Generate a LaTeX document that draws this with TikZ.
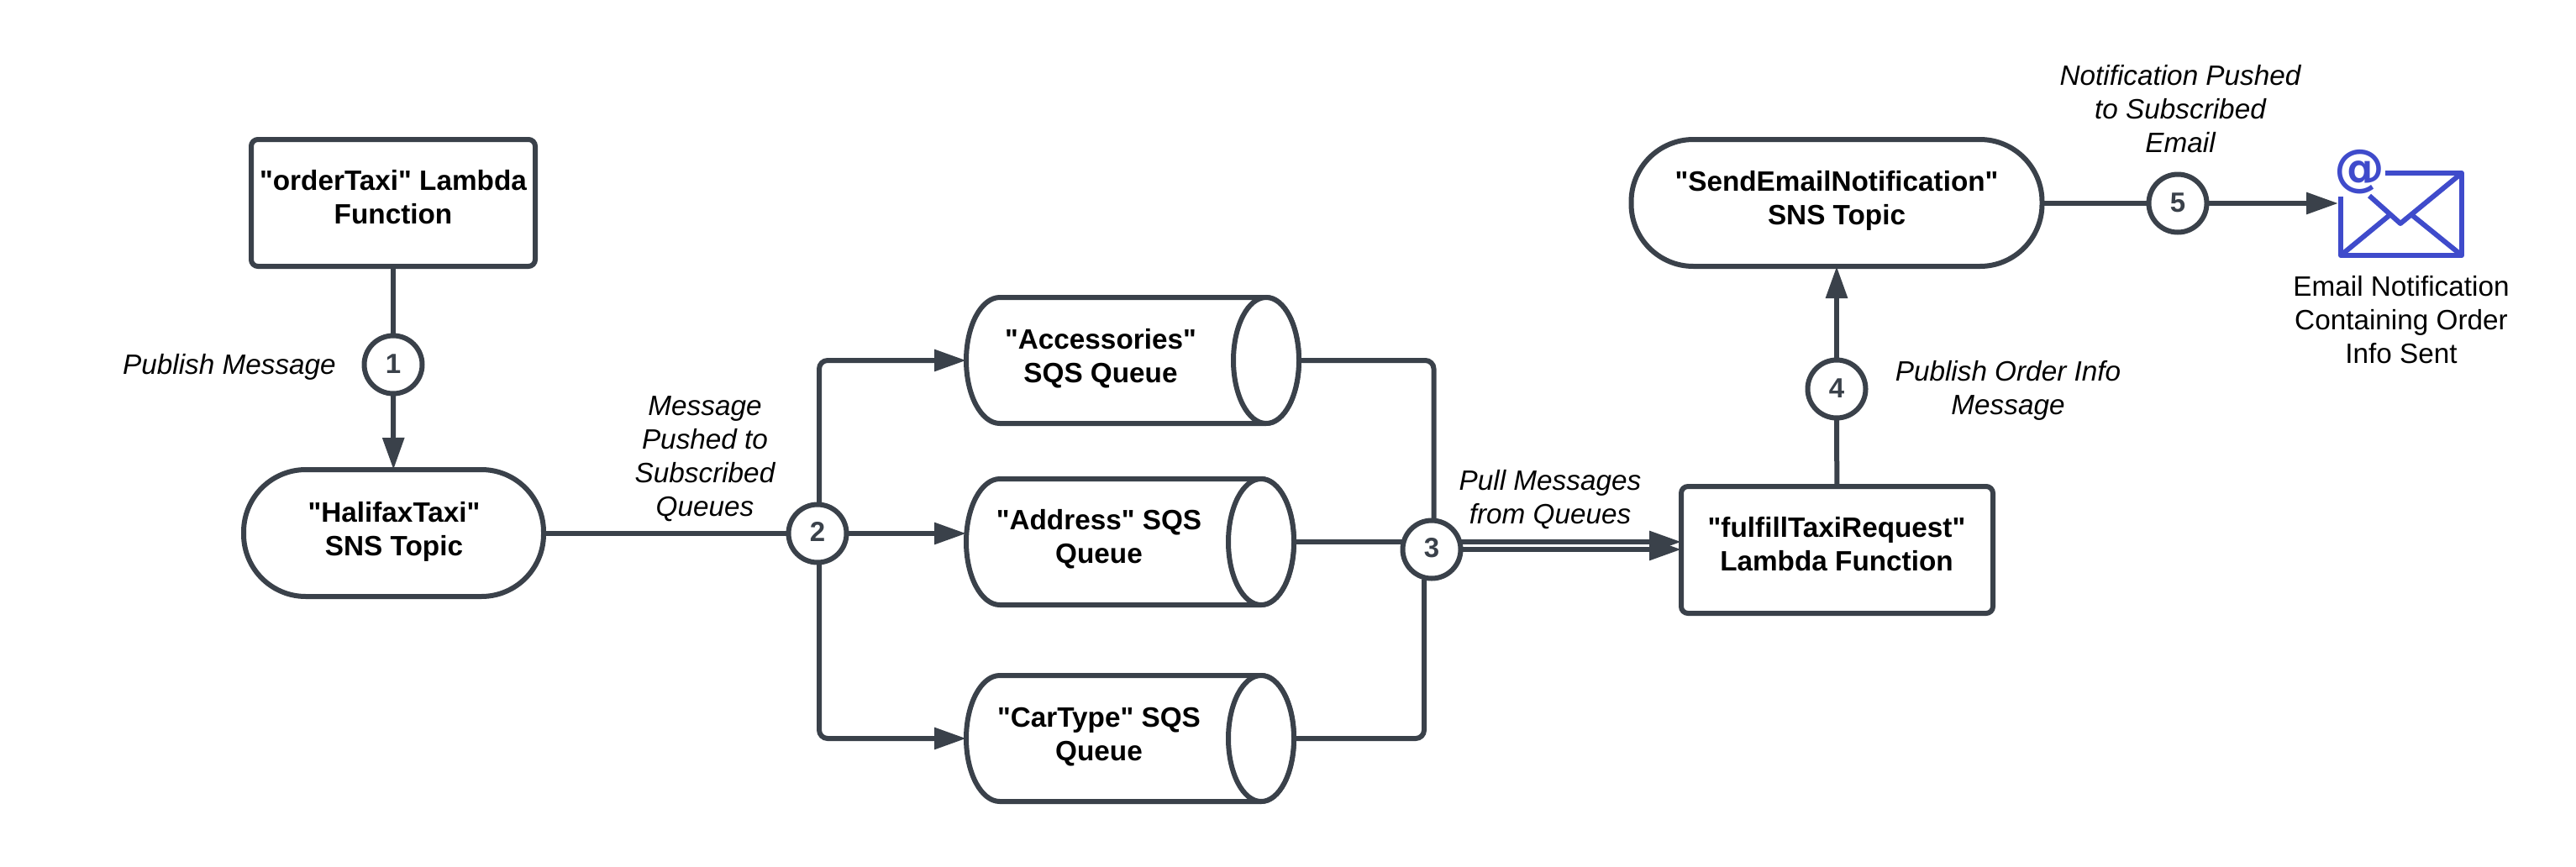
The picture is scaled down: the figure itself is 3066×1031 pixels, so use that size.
\documentclass[tikz,border=0pt]{standalone}
\usepackage{fontspec}
\setmainfont{Liberation Sans}[Ligatures=TeXOff]
\newfontfamily\atfont{DejaVu Sans}[Ligatures=TeXOff]
\usetikzlibrary{arrows.meta,backgrounds,calc}
\definecolor{ink}{HTML}{3A414A}
\definecolor{mailblue}{HTML}{3F4BCB}
\tikzset{
  x=1pt,y=-1pt,
  every node/.style={outer sep=0pt,inner sep=0pt},
  shapeline/.style={draw=ink,line width=6pt,fill=white},
  boxs/.style={shapeline,rectangle,rounded corners=8pt},
  stadium/.style={shapeline,rectangle,rounded corners=74pt},
  cylframe/.style={rectangle,minimum height=150pt},
  num/.style={shapeline,circle,minimum size=69pt,font=\fontsize{33}{40}\selectfont\bfseries,text=ink},
  boldtxt/.style={align=center,font=\fontsize{33.3}{40}\selectfont\bfseries,text=black},
  ital/.style={align=center,font=\fontsize{33.3}{40}\selectfont\itshape,text=black},
  plain/.style={align=center,font=\fontsize{33.3}{40}\selectfont,text=black},
  conn/.style={draw=ink,line width=6pt,rounded corners=10pt},
  arr/.style={conn,-{Triangle[length=38pt,width=25pt]}},
  mail/.style={draw=mailblue,line width=6pt,line join=round},
}
% cylinder lying on its side, drawn round a named frame node
\newcommand{\drawcyl}[1]{%
  \draw[shapeline] ([xshift=-39pt]#1.north east) -- ([xshift=40pt]#1.north west)
    arc[start angle=90,end angle=270,x radius=40pt,y radius=75pt]
    -- ([xshift=-39pt]#1.south east)
    arc[start angle=-90,end angle=90,x radius=39pt,y radius=75pt] -- cycle;
  \draw[shapeline] ([xshift=-39pt]#1.east) ellipse[x radius=39pt,y radius=75pt];
}
\begin{document}
\begin{tikzpicture}
\useasboundingbox (0,0) rectangle (3066,1031);
% shapes
\node[boxs,minimum width=338pt,minimum height=151pt] (order) at (468,241.5) {};
\node[stadium,minimum width=357pt,minimum height=151pt] (halifax) at (468.5,634.5) {};
\node[cylframe,minimum width=396pt] (acc) at (1348,429) {};
\node[cylframe,minimum width=390pt] (addr) at (1345,645) {};
\node[cylframe,minimum width=390pt] (car) at (1345,879) {};
\drawcyl{acc}
\drawcyl{addr}
\drawcyl{car}
\node[boxs,minimum width=371pt,minimum height=151pt] (fulfill) at (2186.5,654.5) {};
\node[stadium,minimum width=489pt,minimum height=151pt] (send) at (2186,241.5) {};
\node[num] (n1) at (468,434) {\raisebox{2pt}{1}};
\node[num] (n2) at (973,635) {\raisebox{4pt}{2}};
\node[num] (n3) at (1704,654) {\raisebox{4pt}{3}};
\node[num] (n4) at (2186,463) {\raisebox{2pt}{4}};
\node[num] (n5) at (2592,242) {\raisebox{2pt}{5}};
% free ends
\coordinate (up2) at (975,600);
\coordinate (dn2) at (975,670);
\coordinate (up3) at (1706.5,620);
\coordinate (dn3) at (1695,690);
\coordinate (a1) at (1704,645);
\coordinate (a2) at (1704,654);
\coordinate (mailtip) at (2783,242);
% connectors
\begin{scope}[on background layer]
\draw[conn] (order) -- (n1);
\draw[arr] (n1) -- (halifax);
\draw[conn] (halifax.east |- n2) -- (n2);
\draw[arr] (up2) |- (acc.west);
\draw[arr] (n2) -- (addr.west |- n2);
\draw[arr] (dn2) |- (car.west);
\draw[conn] (acc.east) -| (up3);
\draw[conn] (addr.east) -- (a1);
\draw[conn] (car.east) -| (dn3);
\draw[arr] (a1) -- (fulfill.west |- a1);
\draw[arr] (a2) -- (fulfill.west |- a2);
\draw[conn] (fulfill) -- (n4);
\draw[arr] (n4) -- (send);
\draw[conn] (send.east |- n5) -- (n5);
\draw[arr] (n5) -- (mailtip);
\end{scope}
% text
\node[boldtxt] (orderT) at (468,235) {"orderTaxi" Lambda\\Function};
\node[boldtxt] (halifaxT) at (469,633) {"HalifaxTaxi"\\SNS Topic};
\node[boldtxt] (accT) at (1310,427) {"Accessories"\\SQS Queue};
\node[boldtxt] (addrT) at (1308,642) {"Address" SQS\\Queue};
\node[boldtxt] (carT) at (1308,877) {"CarType" SQS\\Queue};
\node[boldtxt] (fulfillT) at (2186,648) {"fulfillTaxiRequest"\\Lambda Function};
\node[boldtxt] (sendT) at (2186,239) {"SendEmailNotification"\\SNS Topic};
\node[ital] (l1) at (273,437) {Publish Message};
\node[ital] (l2) at (839,546) {Message\\Pushed to\\Subscribed\\Queues};
\node[ital] (l3) at (1845,595) {Pull Messages\\from Queues};
\node[ital] (l4) at (2390,465) {Publish Order Info\\Message};
\node[ital] (l5) at (2595,130) {Notification Pushed\\to Subscribed\\Email};
\node[plain] (l6) at (2858,381) {Email Notification\\Containing Order\\Info Sent};
% envelope
\coordinate (eTL) at (2839,206);
\coordinate (eTR) at (2930,206);
\coordinate (eBR) at (2930,304);
\coordinate (eBL) at (2786,304);
\coordinate (eLT) at (2786,234);
\draw[mail] (eTL) -- (eTR) -- (eBR) -- (eBL) -- (eLT);
\coordinate (eV) at (2857,266);
\coordinate (eF) at (2820,233);
\coordinate (eL) at (2843,257);
\coordinate (eR) at (2872,257);
\draw[mail] (eTR) -- (eV) -- (eF);
\draw[mail] (eBL) -- (eL);
\draw[mail] (eBR) -- (eR);
\node[text=mailblue,font=\fontsize{60}{60}\selectfont\atfont\bfseries] (at) at (2808,205) {@};
\end{tikzpicture}
\end{document}
